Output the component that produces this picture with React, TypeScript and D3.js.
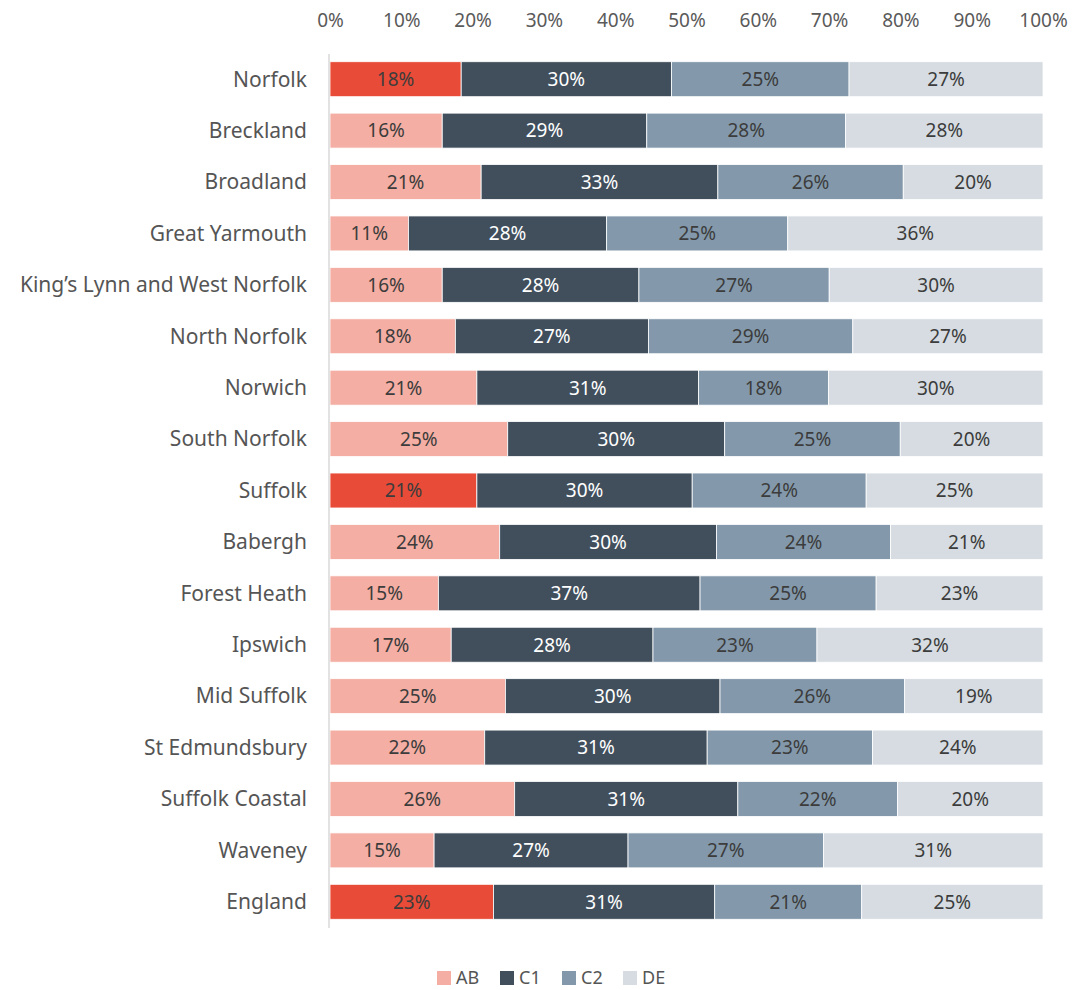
import React from "react";
import * as d3 from "d3";

const areas = [
    "Norfolk", "Breckland", "Broadland", "Great Yarmouth", "King\u2019s Lynn and West Norfolk",
    "North Norfolk", "Norwich", "South Norfolk", "Suffolk", "Babergh", "Forest Heath",
    "Ipswich", "Mid Suffolk", "St Edmundsbury", "Suffolk Coastal", "Waveney", "England",
];
const highlighted = ["Norfolk", "Suffolk", "England"];
const groups = ["AB", "C1", "C2", "DE"];

const abValues = [18.4, 15.75, 21.2, 11.0, 15.75, 17.6, 20.6, 24.9, 20.6, 23.8, 15.2, 17.0, 24.6, 21.7, 25.9, 14.6, 22.9];
const c1Values = [29.5, 28.7, 33.2, 27.8, 27.6, 27.1, 31.1, 30.4, 30.2, 30.4, 36.7, 28.3, 30.1, 31.2, 31.3, 27.2, 31.0];
const c2Values = [24.9, 27.9, 26.0, 25.4, 26.7, 28.7, 18.2, 24.6, 24.4, 24.4, 24.7, 23.0, 25.9, 23.2, 22.4, 27.4, 20.6];
const deValues = [27.2, 27.7, 19.6, 35.8, 30.0, 26.7, 30.1, 20.0, 24.8, 21.4, 23.4, 31.7, 19.4, 23.9, 20.4, 30.8, 25.4];

const xTicks = [0, 0.1, 0.2, 0.3, 0.4, 0.5, 0.6, 0.7, 0.8, 0.9, 1];

const colors: Record<string, string> = {
    AB: "#f4aea3",
    C1: "#414f5d",
    C2: "#8399ab",
    DE: "#d6dce2",
};
const highlightColor = "#e84b37";
const font = "'Noto Sans', sans-serif";

const width = 1084;
const height = 990;

const App = () => {
    const svgRef = React.useRef(null);

    React.useEffect(() => {
        const rows = areas.map((name, i) => ({
            name,
            AB: abValues[i],
            C1: c1Values[i],
            C2: c2Values[i],
            DE: deValues[i],
        }));

        const xScale = d3.scaleLinear().domain([0, 1]).range([330, 1043]);
        const yScale = d3
            .scaleBand()
            .domain(areas)
            .range([53.5, 927.5])
            .paddingInner(0.32)
            .paddingOuter(0.16);

        const stack = d3.stack().keys(groups).offset(d3.stackOffsetExpand);
        const series = stack(rows as any);

        const svgEl = d3.select(svgRef.current);
        svgEl.selectAll("*").remove();
        const svg = svgEl.append("g");

        // top axis labels only
        const xAxis = d3
            .axisTop(xScale)
            .tickValues(xTicks)
            .tickSize(0)
            .tickPadding(0)
            .tickFormat(d3.format(".0%"));
        const xAxisGroup = svg.append("g").attr("transform", "translate(0, 27)").call(xAxis);
        xAxisGroup.select(".domain").remove();
        xAxisGroup
            .selectAll("text")
            .attr("fill", "#5a5a5a")
            .attr("font-family", font)
            .attr("font-size", "19px");

        // category labels
        svg.append("g")
            .selectAll("text")
            .data(areas)
            .enter()
            .append("text")
            .attr("x", 307)
            .attr("y", (d) => (yScale(d) as number) + yScale.bandwidth() / 2)
            .attr("dy", "0.35em")
            .attr("text-anchor", "end")
            .attr("fill", "#555")
            .attr("font-family", font)
            .attr("font-size", "21px")
            .text((d) => d);

        // stacked bars
        const layers = svg
            .selectAll(".layer")
            .data(series)
            .enter()
            .append("g")
            .attr("class", "layer");

        layers
            .selectAll("rect")
            .data((s: any) => s.map((p: any) => ({ key: s.key, p })))
            .enter()
            .append("rect")
            .attr("x", (d: any) => xScale(d.p[0]))
            .attr("y", (d: any) => yScale(d.p.data.name) as number)
            .attr("width", (d: any) => xScale(d.p[1]) - xScale(d.p[0]))
            .attr("height", yScale.bandwidth())
            .attr("fill", (d: any) =>
                d.key === "AB" && highlighted.includes(d.p.data.name) ? highlightColor : colors[d.key]
            )
            .attr("stroke", "#fff")
            .attr("stroke-width", 0.8);

        layers
            .selectAll("text")
            .data((s: any) => s.map((p: any) => ({ key: s.key, p })))
            .enter()
            .append("text")
            .attr("x", (d: any) => (xScale(d.p[0]) + xScale(d.p[1])) / 2)
            .attr("y", (d: any) => (yScale(d.p.data.name) as number) + yScale.bandwidth() / 2)
            .attr("dy", "0.36em")
            .attr("text-anchor", "middle")
            .attr("fill", (d: any) => (d.key === "C1" ? "#ffffff" : "#3c3c3c"))
            .attr("font-family", font)
            .attr("font-size", "19px")
            .text((d: any) => `${Math.round(d.p.data[d.key])}%`);

        // axis line on the left of bars
        svg.append("line")
            .attr("x1", 329)
            .attr("x2", 329)
            .attr("y1", 54)
            .attr("y2", 928)
            .attr("stroke", "#d9d9d9")
            .attr("stroke-width", 1.5);

        // legend
        const legendX = d3.scaleOrdinal<string, number>().domain(groups).range([437, 500, 562, 623]);
        const legend = svg
            .append("g")
            .selectAll("g")
            .data(groups)
            .enter()
            .append("g")
            .attr("transform", (d) => `translate(${legendX(d)}, 971)`);
        legend
            .append("rect")
            .attr("width", 14)
            .attr("height", 14)
            .attr("fill", (d) => colors[d]);
        legend
            .append("text")
            .attr("x", 19)
            .attr("y", 7)
            .attr("dy", "0.36em")
            .attr("fill", "#555")
            .attr("font-family", font)
            .attr("font-size", "18px")
            .text((d) => d);
    }, []);

    return (
        <svg
            ref={svgRef}
            width={width}
            height={height}
            viewBox={`0 0 ${width} ${height}`}
            style={{ position: "absolute", left: 0, top: 0, background: "#fff" }}
        />
    );
};

export default App;
